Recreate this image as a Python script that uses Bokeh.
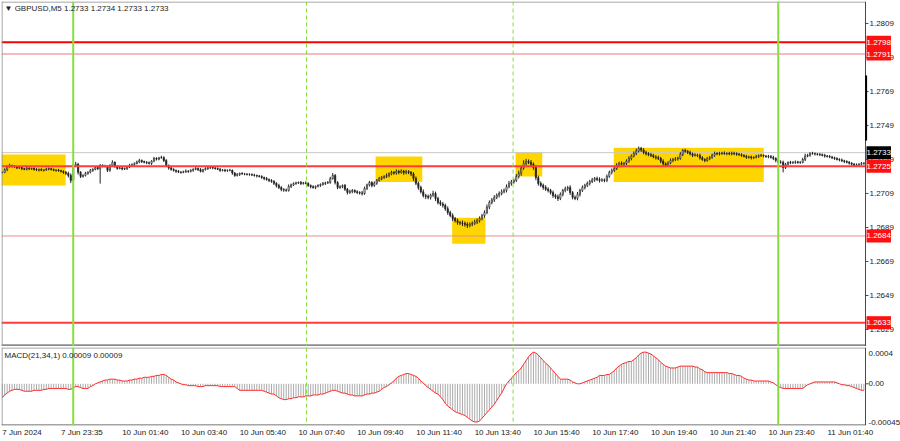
import numpy as np
from bokeh.plotting import figure
from bokeh.layouts import column
from bokeh.models import Span, Label, FixedTicker, Range1d, BoxAnnotation
from bokeh.core.properties import value
from bokeh.embed import file_html
from bokeh.resources import INLINE

# ---------------- data ----------------
# GBPUSD M5 closes, in units of 0.00001 above 1.27000, one per bar
close_pts = [
    214, 230, 248, 255, 250, 246, 240, 243, 236, 232, 238, 235, 237, 230, 228, 232, 226, 229, 234, 236,
    231, 226, 228, 224, 220, 214, 208, 196, 167, 255, 262, 215, 190, 196, 208, 215, 226, 232, 243, 236,
    255, 250, 249, 226, 255, 273, 250, 237, 240, 234, 237, 246, 255, 260, 267, 275, 284, 278, 273, 270,
    267, 280, 296, 292, 300, 302, 284, 255, 240, 232, 226, 220, 216, 214, 218, 222, 220, 226, 232, 237,
    230, 220, 230, 237, 240, 243, 240, 237, 232, 226, 228, 224, 226, 226, 210, 196, 202, 208, 205, 204,
    202, 202, 198, 196, 193, 190, 184, 178, 172, 166, 161, 150, 137, 125, 114, 110, 108, 131, 140, 149,
    152, 155, 149, 152, 149, 137, 130, 125, 132, 137, 143, 149, 152, 155, 178, 196, 155, 125, 130, 137,
    115, 96, 102, 108, 100, 96, 93, 90, 120, 140, 155, 137, 150, 167, 178, 184, 190, 196, 205, 214,
    210, 220, 214, 222, 212, 218, 214, 205, 178, 150, 125, 100, 78, 72, 67, 80, 90, 60, 37, 28,
    20, 0, -22, -40, -57, -70, -81, -84, -86, -92, -98, -90, -86, -78, -68, -57, -40, -22, 10, 37,
    52, 67, 80, 90, 100, 108, 130, 149, 158, 167, 190, 208, 240, 267, 278, 273, 262, 243, 184, 149,
    138, 125, 115, 108, 95, 78, 70, 61, 85, 108, 118, 125, 95, 67, 61, 85, 108, 125, 138, 149,
    160, 170, 178, 172, 167, 170, 167, 190, 214, 226, 237, 255, 267, 262, 267, 280, 296, 310, 325, 340,
    355, 345, 331, 325, 318, 314, 305, 300, 296, 280, 265, 255, 270, 284, 290, 294, 296, 320, 343, 338,
    331, 322, 314, 316, 314, 300, 290, 284, 295, 302, 315, 325, 322, 325, 328, 324, 325, 322, 327, 325,
    320, 318, 314, 308, 302, 305, 300, 302, 308, 312, 314, 310, 306, 308, 302, 296, 285, 273, 273, 243,
    262, 273, 270, 273, 276, 272, 273, 290, 310, 314, 325, 324, 322, 320, 318, 314, 310, 308, 304, 300,
    295, 290, 287, 282, 278, 273, 268, 262, 255, 258, 262, 267, 267,
]
first_open_pts = 214

# upper / lower wick lengths beyond the body, 0.00001 units
high_wick = [
    6, 8, 5, 10, 4, 7, 6, 9, 5, 4, 8, 6, 5, 7, 9, 4, 6, 5, 8, 7,
    5, 6, 4, 7, 5, 6, 8, 10, 12, 9, 14, 8, 6, 7, 9, 5, 8, 6, 7, 10,
    8, 6, 9, 5, 7, 12, 6, 5, 8, 7, 6, 5, 9, 7, 6, 8, 10, 6, 5, 7,
    8, 6, 9, 7, 5, 10, 6, 8, 5, 7, 6, 4, 8, 5, 6, 9, 5, 7, 6, 8,
    6, 9, 5, 7, 8, 6, 5, 7, 6, 8, 5, 7, 6, 9, 5, 6, 8, 5, 7, 6,
    5, 7, 6, 8, 5, 6, 7, 5, 9, 6, 8, 7, 6, 10, 8, 7, 9, 12, 8, 6,
    7, 5, 8, 6, 9, 7, 6, 8, 5, 7, 6, 9, 7, 8, 10, 14, 9, 7, 8, 6,
    9, 7, 10, 8, 6, 9, 7, 12, 10, 8, 9, 7, 11, 8, 10, 9, 7, 12, 9, 10,
    8, 12, 9, 10, 7, 11, 9, 8, 10, 12, 9, 11, 14, 10, 12, 9, 16, 11, 10, 13,
    12, 10, 14, 11, 13, 9, 12, 10, 15, 11, 13, 10, 12, 14, 11, 12, 10, 13, 15, 12,
    11, 13, 10, 12, 14, 11, 13, 15, 12, 10, 14, 16, 13, 18, 15, 12, 14, 10, 13, 11,
    12, 10, 13, 11, 9, 12, 10, 14, 11, 9, 12, 10, 13, 9, 11, 14, 10, 12, 9, 11,
    10, 12, 9, 11, 13, 10, 8, 12, 10, 11, 9, 13, 10, 12, 8, 11, 13, 10, 12, 14,
    11, 9, 12, 10, 8, 11, 9, 10, 12, 9, 11, 8, 10, 12, 9, 10, 11, 13, 9, 10,
    8, 10, 9, 11, 8, 10, 9, 7, 10, 8, 9, 11, 8, 10, 7, 9, 8, 10, 9, 8,
    7, 9, 8, 6, 9, 7, 8, 6, 9, 7, 8, 6, 7, 9, 8, 10, 7, 9, 12, 10,
    8, 6, 9, 7, 8, 6, 7, 10, 14, 9, 8, 10, 7, 6, 8, 7, 9, 6, 8, 7,
    6, 8, 7, 9, 6, 7, 8, 6, 7, 9, 6, 8, 7,
]
low_wick = [
    7, 5, 9, 6, 8, 5, 7, 6, 9, 5, 6, 8, 7, 5, 6, 9, 5, 7, 6, 8,
    6, 5, 8, 6, 7, 9, 10, 12, 16, 8, 10, 14, 9, 7, 6, 8, 7, 9, 6, 8,
    88, 7, 6, 10, 8, 6, 9, 7, 5, 8, 6, 9, 7, 5, 8, 6, 7, 9, 6, 8,
    7, 9, 6, 8, 7, 5, 9, 6, 10, 8, 7, 9, 6, 8, 5, 7, 9, 6, 8, 5,
    8, 6, 7, 5, 9, 6, 8, 7, 5, 9, 6, 8, 7, 6, 10, 8, 6, 9, 5, 7,
    6, 8, 5, 7, 9, 6, 8, 10, 7, 9, 8, 10, 12, 9, 11, 10, 8, 7, 9, 6,
    8, 6, 9, 7, 5, 8, 10, 7, 9, 6, 8, 7, 9, 6, 8, 7, 12, 10, 8, 9,
    10, 12, 9, 11, 8, 10, 9, 12, 8, 10, 9, 11, 8, 9, 7, 10, 8, 9, 11, 8,
    10, 9, 11, 8, 12, 9, 10, 13, 14, 11, 13, 10, 12, 15, 11, 13, 10, 14, 12, 11,
    13, 12, 14, 10, 15, 11, 13, 12, 16, 14, 15, 11, 13, 10, 12, 14, 11, 13, 10, 12,
    11, 12, 10, 13, 11, 9, 12, 10, 13, 11, 10, 12, 14, 11, 13, 10, 12, 14, 16, 13,
    11, 13, 10, 12, 11, 14, 12, 15, 10, 12, 11, 13, 14, 12, 10, 11, 13, 9, 11, 10,
    12, 9, 11, 10, 13, 9, 11, 10, 8, 12, 10, 9, 11, 8, 12, 10, 9, 11, 8, 10,
    9, 11, 10, 12, 9, 10, 8, 11, 9, 12, 14, 10, 9, 8, 10, 9, 11, 8, 10, 9,
    9, 8, 10, 7, 9, 11, 8, 10, 7, 9, 8, 10, 7, 9, 8, 6, 9, 7, 8, 10,
    8, 7, 9, 6, 8, 7, 10, 8, 6, 9, 7, 8, 6, 9, 7, 10, 12, 9, 8, 29,
    9, 7, 8, 6, 9, 7, 8, 6, 10, 7, 8, 6, 9, 7, 8, 6, 9, 7, 6, 8,
    7, 6, 8, 7, 9, 6, 8, 7, 6, 8, 9, 7, 8,
]

# MACD(21,34,1) main value per bar, in units of 0.00001
macd_e5 = [
    -15, -12, -10, -8, -7, -6, -6, -6, -7, -8, -8, -8, -8, -7, -7, -7, -7, -6, -6, -5,
    -5, -5, -5, -5, -5, -5, -5, -6, -6, -4, -3, -3, -4, -5, -5, -5, -3, -2, 0, 1,
    2, 3, 4, 4, 5, 5, 5, 4, 4, 3, 3, 3, 4, 4, 5, 5, 6, 6, 7, 7,
    7, 8, 8, 9, 9, 10, 10, 9, 7, 5, 4, 2, 1, 0, -1, -1, -2, -2, -2, -2,
    -3, -3, -3, -2, -2, -2, -2, -2, -2, -3, -3, -3, -3, -3, -3, -3, -5, -7, -7, -7,
    -7, -7, -7, -7, -7, -7, -7, -8, -9, -10, -11, -11, -13, -15, -16, -17, -17, -16, -16, -15,
    -15, -14, -14, -14, -13, -13, -13, -12, -12, -12, -11, -11, -10, -9, -8, -7, -7, -8, -9, -10,
    -10, -11, -12, -12, -13, -13, -13, -13, -12, -11, -11, -10, -10, -9, -8, -6, -4, -3, -1, 1,
    3, 6, 8, 9, 10, 11, 11, 10, 9, 8, 6, 3, 1, -2, -4, -6, -8, -10, -11, -14,
    -17, -21, -24, -26, -28, -30, -31, -32, -33, -34, -36, -38, -40, -41, -41, -40, -37, -34, -31, -28,
    -25, -22, -18, -14, -10, -5, 0, 3, 6, 9, 12, 14, 17, 21, 25, 29, 32, 34, 33, 31,
    28, 25, 22, 20, 17, 14, 11, 8, 5, 5, 5, 5, 4, 2, 1, 0, 0, 1, 2, 3,
    4, 5, 6, 7, 9, 9, 9, 10, 10, 12, 14, 17, 19, 21, 22, 23, 24, 24, 26, 28,
    31, 33, 34, 34, 33, 32, 30, 28, 26, 23, 21, 19, 18, 17, 17, 17, 18, 19, 19, 19,
    19, 19, 19, 18, 18, 16, 15, 13, 12, 12, 12, 12, 12, 12, 12, 12, 12, 11, 11, 10,
    9, 9, 8, 6, 5, 4, 4, 3, 3, 3, 3, 3, 3, 3, 2, 1, -1, -3, -4, -5,
    -5, -5, -5, -5, -5, -5, -5, -5, -3, -1, 0, 1, 2, 2, 2, 2, 2, 2, 2, 2,
    2, 1, 0, -1, -1, -2, -2, -3, -4, -5, -6, -7, -7,
]

# horizontal levels and their colours
level_prices = [1.2798, 1.2791, 1.2725, 1.2684, 1.2633]
level_colors = ["#FF0000", "#F2A6A6", "#FF3B3B", "#F08C8C", "#FF3B3B"]
level_widths = [2, 1.5, 2, 1, 2]
current_price = 1.2733
price_ticks = [1.2629, 1.2649, 1.2669, 1.2689, 1.2709, 1.2729, 1.2749, 1.2769, 1.2789, 1.2809]

# yellow zones: (first bar, last bar, low price, high price)
zone_bar0 = [-0.3, 152.5, 183.8, 209.7, 249.8]
zone_bar1 = [25.9, 171.6, 197.4, 220.6, 311.1]
zone_lo = [1.27137, 1.27157, 1.26794, 1.27190, 1.27157]
zone_hi = [1.27319, 1.27308, 1.26947, 1.27333, 1.27359]

# vertical separators (bar index): day starts (solid), sessions (dashed)
day_start_bars = [29, 317]
session_bars = [124.3, 208.7]

# black marker on the price scale (price span)
marker_lo, marker_hi = 1.27402, 1.27784

# x-axis labels at bar indices
x_tick_bars = [0, 24, 49, 73, 97, 121, 145, 169, 193, 217, 241, 265, 289, 313, 337]
x_tick_labels = ["7 Jun 2024", "7 Jun 23:35", "10 Jun 01:40", "10 Jun 03:40", "10 Jun 05:40",
                 "10 Jun 07:40", "10 Jun 09:40", "10 Jun 11:40", "10 Jun 13:40", "10 Jun 15:40",
                 "10 Jun 17:40", "10 Jun 19:40", "10 Jun 21:40", "10 Jun 23:40", "11 Jun 01:40"]

macd_ticks = [0.0004, 0.0, -0.00045]
macd_tick_labels = ["0.0004", "0.00", "-0.00045"]

header_text = "\u25BC GBPUSD,M5  1.2733 1.2734 1.2733 1.2733"
macd_text = "MACD(21,34,1) 0.00009 0.00009"

# ---------------- layout constants ----------------
FONT = "Liberation Sans"
W = 900
H1, H2 = 346, 95
X_START, X_END = -0.3, 352.65          # data area (left of the price scale)
DATA_PX = 864                          # pixel width of the data area
FRAME_W = W - 1
PX_PER_BAR = DATA_PX / (X_END - X_START)
X_FULL_END = X_START + FRAME_W / PX_PER_BAR
DX = 1.0 / PX_PER_BAR
PRICE_MIN, PRICE_MAX = 1.26190, 1.28219
FRAME1_H = H1 - 1
DY1 = (PRICE_MAX - PRICE_MIN) / FRAME1_H
MACD_MIN, MACD_MAX = -0.000448, 0.00039
FRAME2_H = H2 - 1 - 16
DY2 = (MACD_MAX - MACD_MIN) / FRAME2_H
GREEN = "#86DF3A"
AXIS_C = "#4A4A4A"
BORDER_C = "#8A8A8A"
TXT_C = "#222222"

# ---------------- derived series ----------------
n = len(close_pts)
idx = np.arange(n)
closes = 1.27 + np.array(close_pts) / 1e5
opens = np.concatenate([[1.27 + first_open_pts / 1e5], closes[:-1]])
highs = np.maximum(opens, closes) + np.array(high_wick[:n]) / 1e5
lows = np.minimum(opens, closes) - np.array(low_wick[:n]) / 1e5
macd = np.array(macd_e5[:n]) * 1e-5
bull = closes >= opens

xr = Range1d(X_START, X_FULL_END)

# ---------------- main price panel ----------------
p1 = figure(width=W, height=H1, x_range=xr, y_range=Range1d(PRICE_MIN, PRICE_MAX),
            output_backend="svg", toolbar_location=None, x_axis_location=None,
            y_axis_location=None, min_border_left=1, min_border_right=0,
            min_border_top=1, min_border_bottom=0)
p1.grid.grid_line_color = None
p1.outline_line_color = None
p1.background_fill_color = "white"
p1.border_fill_color = "white"

for b0, b1, lo, hi in zip(zone_bar0, zone_bar1, zone_lo, zone_hi):
    p1.add_layout(BoxAnnotation(left=b0, right=b1, bottom=lo, top=hi, fill_color="#FFD500",
                                fill_alpha=1.0, line_color=None, level="underlay"))

p1.segment(x0=[X_START], y0=[current_price], x1=[X_END], y1=[current_price],
           line_color="#C8C8C8", line_width=1)

# candles
p1.segment(x0=idx, y0=lows, x1=idx, y1=highs, line_color="#222222", line_width=1)
p1.vbar(x=idx[bull], width=0.5, top=closes[bull], bottom=opens[bull],
        fill_color="white", line_color="#222222", line_width=0.7)
p1.vbar(x=idx[~bull], width=0.5, top=opens[~bull], bottom=closes[~bull],
        fill_color="#222222", line_color="#222222", line_width=0.7)

# horizontal levels (up to the price scale)
p1.segment(x0=[X_START] * len(level_prices), y0=level_prices,
           x1=[X_END] * len(level_prices), y1=level_prices,
           line_color=level_colors, line_width=level_widths)

for b in day_start_bars:
    p1.add_layout(Span(location=b, dimension="height", line_color=GREEN, line_width=2))
for b in session_bars:
    p1.add_layout(Span(location=b, dimension="height", line_color=GREEN, line_width=1,
                       line_dash="4 3"))

# frame lines and price scale
p1.segment(x0=[X_START, X_START + 0.5 * DX, X_START, X_END],
           y0=[PRICE_MAX - 0.5 * DY1, PRICE_MIN, PRICE_MIN + 1.0 * DY1, PRICE_MIN],
           x1=[X_END, X_START + 0.5 * DX, X_END, X_END],
           y1=[PRICE_MAX - 0.5 * DY1, PRICE_MAX, PRICE_MIN + 1.0 * DY1, PRICE_MAX],
           line_color=[BORDER_C, BORDER_C, "#8C8C8C", AXIS_C], line_width=[1, 1, 2.5, 1])
p1.segment(x0=[X_END] * len(price_ticks), y0=price_ticks,
           x1=[X_END + 3 * DX] * len(price_ticks), y1=price_ticks,
           line_color=AXIS_C, line_width=1)
p1.text(x=[X_END] * len(price_ticks), y=price_ticks, text=[f"{t:.4f}" for t in price_ticks],
        x_offset=4, text_align="left", text_baseline="middle", text_color=TXT_C,
        text_font=value(FONT), text_font_size=value("8px"))
p1.segment(x0=[X_END + 0.6 * DX], y0=[marker_lo], x1=[X_END + 0.6 * DX], y1=[marker_hi],
           line_color="black", line_width=2)

# price tags on the scale
for lv in level_prices:
    p1.add_layout(Label(x=X_END, y=lv, x_offset=1, text=f"{lv:.4f}", text_align="left",
                        text_baseline="middle", text_color="white", text_font=FONT,
                        text_font_size="8px", background_fill_color="#FF1010",
                        padding=(0, 4)))
p1.add_layout(Label(x=X_END, y=current_price, x_offset=1, text=f"{current_price:.4f}",
                    text_align="left", text_baseline="middle", text_color="white",
                    text_font=FONT, text_font_size="8px", background_fill_color="black",
                    padding=(0, 4)))

p1.add_layout(Label(x=X_START, y=PRICE_MAX, x_offset=3, y_offset=-2, text=header_text,
                    text_align="left", text_baseline="top", text_color=TXT_C,
                    text_font=FONT, text_font_size="8px"))

# ---------------- MACD panel ----------------
p2 = figure(width=W, height=H2, x_range=xr, y_range=Range1d(MACD_MIN, MACD_MAX),
            output_backend="svg", toolbar_location=None, y_axis_location=None,
            min_border_left=1, min_border_right=0, min_border_top=1,
            min_border_bottom=16)
p2.grid.grid_line_color = None
p2.outline_line_color = None
p2.background_fill_color = "white"
p2.border_fill_color = "white"

p2.segment(x0=idx, y0=np.zeros(n), x1=idx, y1=macd, line_color="#ABABAB", line_width=1)
p2.line(idx, macd, line_color="#FF2A2A", line_width=1)

for b in day_start_bars:
    p2.add_layout(Span(location=b, dimension="height", line_color=GREEN, line_width=2))
for b in session_bars:
    p2.add_layout(Span(location=b, dimension="height", line_color=GREEN, line_width=1,
                       line_dash="4 3"))

p2.segment(x0=[X_START, X_START + 0.5 * DX, X_START, X_END],
           y0=[MACD_MAX - 0.5 * DY2, MACD_MIN, MACD_MIN + 0.5 * DY2, MACD_MIN],
           x1=[X_END, X_START + 0.5 * DX, X_END, X_END],
           y1=[MACD_MAX - 0.5 * DY2, MACD_MAX, MACD_MIN + 0.5 * DY2, MACD_MAX],
           line_color=["#8C8C8C", BORDER_C, AXIS_C, AXIS_C], line_width=[1, 1, 1, 1])
p2.segment(x0=[X_END], y0=[0.0], x1=[X_END + 3 * DX], y1=[0.0], line_color=AXIS_C, line_width=1)

baselines = ["top", "middle", "bottom"]
offsets = [-3, 0, 1]
for t, lab, bl, off in zip(macd_ticks, macd_tick_labels, baselines, offsets):
    yy = min(max(t, MACD_MIN), MACD_MAX)
    p2.add_layout(Label(x=X_END, y=yy, x_offset=3, y_offset=off, text=lab, text_align="left",
                        text_baseline=bl, text_color=TXT_C, text_font=FONT,
                        text_font_size="8px"))

p2.add_layout(Label(x=X_START, y=MACD_MAX, x_offset=3, y_offset=-3, text=macd_text,
                    text_align="left", text_baseline="top", text_color=TXT_C,
                    text_font=FONT, text_font_size="8px"))

# x axis: labels are left-aligned on their bar in the original; shift tick to label centre
CHAR_W = {" ": 0.278, ":": 0.278, "J": 0.5, "u": 0.556, "n": 0.556}
def label_width_px(s, size=8):
    return sum(CHAR_W.get(c, 0.556) for c in s) * size

shifted = [round(b + label_width_px(s) / 2 / PX_PER_BAR, 3) for b, s in zip(x_tick_bars, x_tick_labels)]
xa = p2.xaxis[0]
xa.ticker = FixedTicker(ticks=shifted)
xa.major_label_overrides = {t: s for t, s in zip(shifted, x_tick_labels)}
xa.major_label_text_font = FONT
xa.major_label_text_font_size = "8px"
xa.major_label_text_color = TXT_C
xa.axis_line_color = None
xa.major_tick_out = 0
xa.major_tick_in = 0
xa.minor_tick_line_color = None
xa.major_label_standoff = 2

layout = column(p1, p2, spacing=0)
open("out.html", "w").write(file_html(layout, INLINE))
